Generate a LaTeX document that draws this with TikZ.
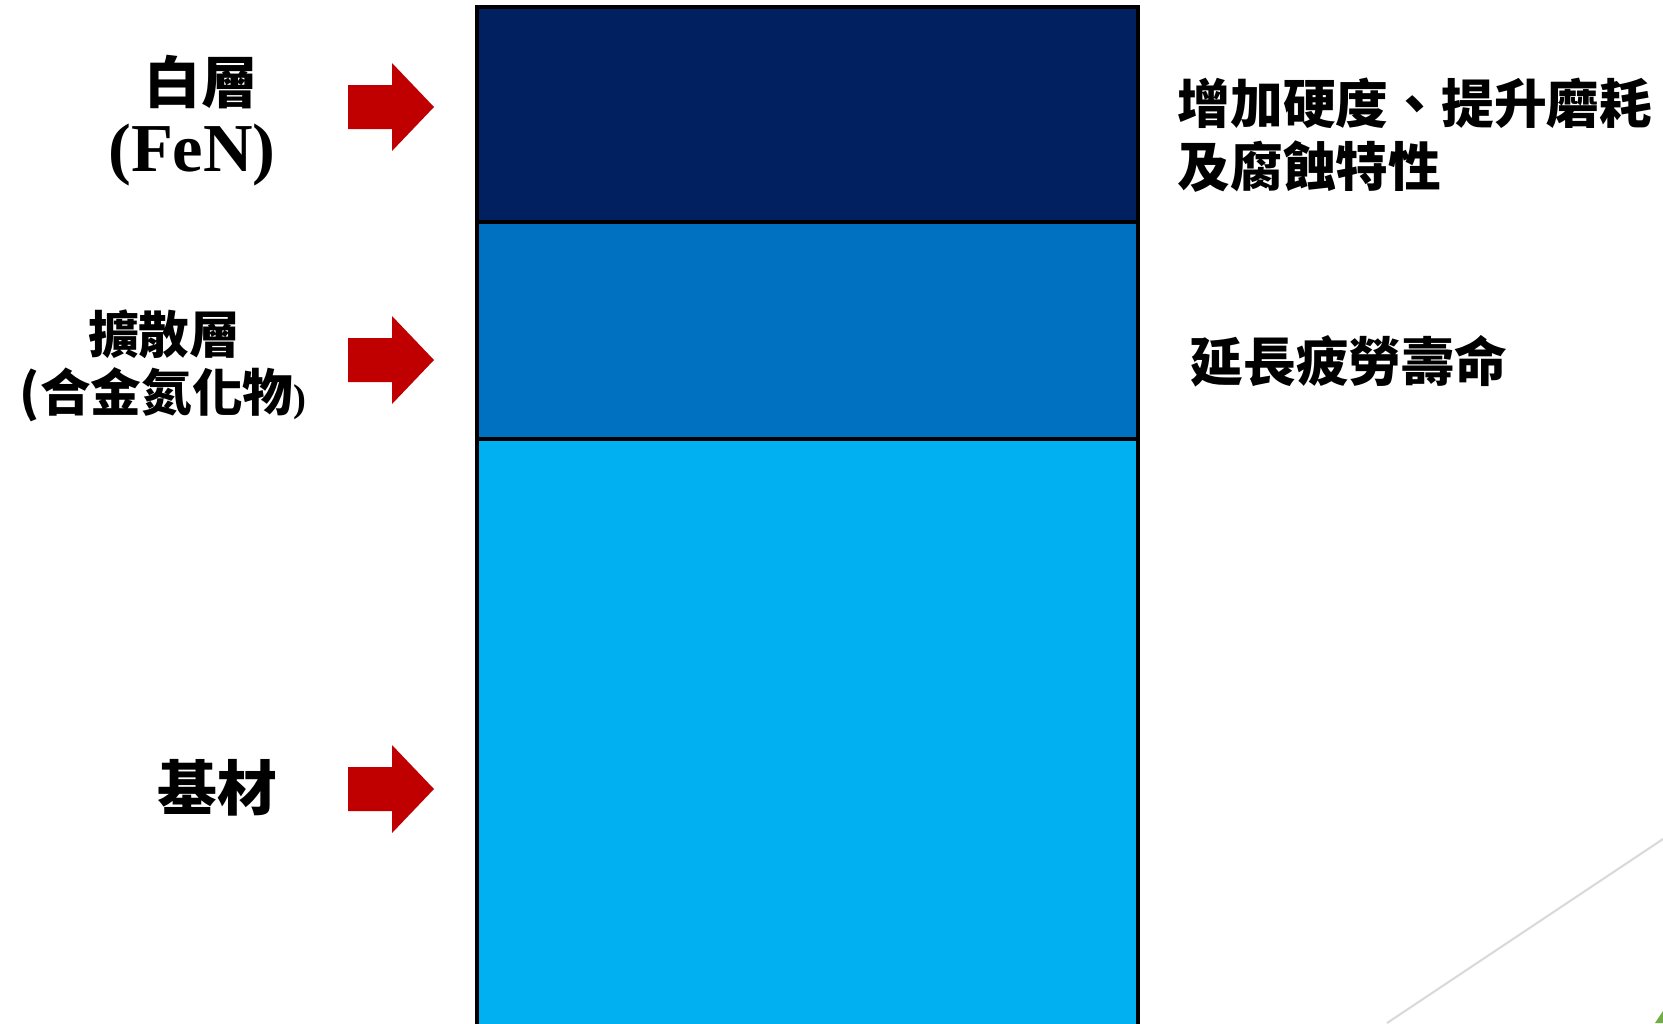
\documentclass[tikz,border=0pt]{standalone}
\usepackage{fontspec}
\setmainfont{Liberation Serif}
\newfontfamily\cjk{Noto Sans CJK TC}
\definecolor{arrowred}{HTML}{C00000}
\definecolor{whitelayer}{HTML}{002060}
\definecolor{difflayer}{HTML}{0070C0}
\definecolor{baselayer}{HTML}{00B0F0}
\definecolor{deco}{HTML}{D9D9D9}
\definecolor{decogreen}{HTML}{70AD47}
\tikzset{
  layer/.style={draw=black,line width=1.2pt,minimum width=6.61cm,inner sep=0pt},
  redarrow/.pic={\fill[arrowred] (0,-22)--(44,-22)--(44,-44)--(86,0)--(44,44)--(44,22)--(0,22)--cycle;},
  lab/.style={font=\cjk\bfseries,align=center,inner sep=0pt},
  note/.style={font=\cjk\bfseries\fontsize{15pt}{18pt}\selectfont,align=left,anchor=west,inner sep=0pt}
}
\begin{document}
\begin{tikzpicture}[x=0.01cm,y=-0.01cm]
      \useasboundingbox (0,0) rectangle (1663,1023);
      \clip (0,0) rectangle (1663,1023);
      % layers
      \node[layer,fill=baselayer,minimum height=6.10cm] (base) at (807.5,744) {};
      \node[layer,fill=difflayer,minimum height=2.17cm] (diff) at (807.5,330.5) {};
      \node[layer,fill=whitelayer,minimum height=2.15cm] (white) at (807.5,114.5) {};
      % arrows
      \pic at (348,107) {redarrow};
      \pic at (348,360) {redarrow};
      \pic at (348,789) {redarrow};
      % labels
      \node[lab,font=\cjk\bfseries\fontsize{16pt}{19pt}\selectfont] (whitelab) at (201,82) {白層};
      \node[lab,font=\bfseries\fontsize{19.5pt}{22pt}\selectfont] (fen) at (192,155) {(FeN)};
      \node[lab,font=\cjk\bfseries\fontsize{14.4pt}{17pt}\selectfont] (difflab) at (164,334) {擴散層};
      \node[lab,font=\cjk\bfseries\fontsize{14.4pt}{17pt}\selectfont] (alloy) at (163,395) {(合金氮化物{\rmfamily\bfseries\fontsize{11pt}{13pt}\selectfont )}};
      \node[lab,font=\cjk\bfseries\fontsize{17pt}{20pt}\selectfont] (baselab) at (217,788) {基材};
      % effects
      \node[note] (hard) at (1177,135) {增加硬度、提升磨耗\\及腐蝕特性};
      \node[note] (fatigue) at (1190,361) {延長疲勞壽命};
      % corner decoration
      \draw[deco,line width=0.6pt] (1663,839) -- (1387,1023);
      \fill[decogreen] (1655,1023) -- (1663,1011) -- (1663,1023) -- cycle;
    \end{tikzpicture}
\end{document}
